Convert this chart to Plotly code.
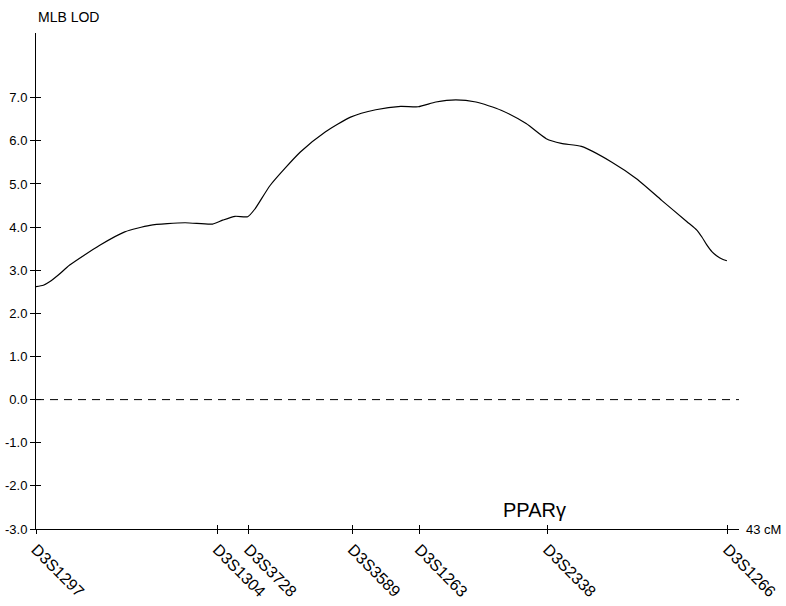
import plotly.graph_objects as go

# Map positions (cM) and LOD profile along the chromosome 3 segment
position_cm = [0.0, 0.45, 0.83, 1.40, 2.06, 3.90, 5.43, 6.97, 9.11, 10.80, 11.41, 12.18, 12.95,
               13.41, 14.33, 16.17, 17.71, 19.24, 20.78, 22.31, 23.38, 24.46, 25.68,
               26.91, 28.45, 29.98, 31.21, 32.13, 33.36, 35.20, 36.73, 38.27, 39.80,
               40.42, 40.73, 41.04, 41.34, 41.65, 41.96, 42.26]
mlb_lod = [2.62, 2.65, 2.73, 2.90, 3.12, 3.58, 3.89, 4.04, 4.10, 4.07, 4.16, 4.25, 4.24,
           4.43, 4.97, 5.74, 6.21, 6.55, 6.72, 6.80, 6.79, 6.90, 6.95,
           6.90, 6.71, 6.40, 6.05, 5.94, 5.87, 5.51, 5.12, 4.62, 4.13,
           3.93, 3.77, 3.58, 3.43, 3.33, 3.26, 3.22]

marker_names = ["D3S1297", "D3S1304", "D3S3728", "D3S3589", "D3S1263", "D3S2338", "D3S1266"]
marker_cm = [0.0, 11.09, 13.0, 19.35, 23.45, 31.3, 42.3]

lod_ticks = [-3, -2, -1, 0, 1, 2, 3, 4, 5, 6, 7]
lod_tick_text = ["-3.0", "-2.0", "-1.0", "0.0", "1.0", "2.0", "3.0", "4.0", "5.0", "6.0", "7.0"]

map_length_cm = 43
gene_label = "PPARγ"
gene_cm = 30.5

FONT = "Arial, Liberation Sans, sans-serif"

fig = go.Figure()

# Zero reference line
fig.add_trace(go.Scatter(
    x=[0, map_length_cm], y=[0, 0], mode="lines",
    line=dict(color="black", width=1, dash="8px,6px"),
    hoverinfo="skip", showlegend=False,
))

# LOD curve
fig.add_trace(go.Scatter(
    x=position_cm, y=mlb_lod, mode="lines",
    line=dict(color="black", width=1.2, shape="spline", smoothing=0.6),
    showlegend=False,
))

# Invisible trace on overlay axes so the inner tick marks get drawn
fig.add_trace(go.Scatter(x=[0], y=[0], xaxis="x2", yaxis="y2",
                         mode="markers", marker=dict(opacity=0),
                         hoverinfo="skip", showlegend=False))

axis_common = dict(showgrid=False, zeroline=False, showline=True,
                   linecolor="black", linewidth=1, tickcolor="black",
                   tickwidth=1, automargin=False)

fig.update_layout(
    width=786, height=606,
    margin=dict(l=36, r=47, t=33, b=77),
    plot_bgcolor="white", paper_bgcolor="white",
    font=dict(family=FONT, color="black"),
    xaxis=dict(range=[0, map_length_cm], tickmode="array",
               tickvals=marker_cm, ticktext=marker_names,
               ticks="outside", ticklen=4, tickangle=45,
               tickfont=dict(size=16, family=FONT), **axis_common),
    yaxis=dict(range=[-3, 8.5], tickmode="array",
               tickvals=lod_ticks, ticktext=lod_tick_text,
               ticks="outside", ticklen=5, ticklabelstandoff=0,
               tickfont=dict(size=13, family=FONT), **axis_common),
    xaxis2=dict(range=[0, map_length_cm], overlaying="x", tickmode="array",
                tickvals=marker_cm, showticklabels=False, ticks="inside",
                ticklen=4, **axis_common),
    yaxis2=dict(range=[-3, 8.5], overlaying="y", tickmode="array",
                tickvals=lod_ticks, showticklabels=False, ticks="inside",
                ticklen=5, **axis_common),
    annotations=[
        dict(text="MLB LOD", xref="paper", yref="paper", x=0, y=1.032,
             xanchor="left", yanchor="middle", showarrow=False,
             font=dict(size=14, family=FONT)),
        dict(text=f"{map_length_cm} cM", xref="paper", yref="y", x=1, y=-3,
             xanchor="left", yanchor="middle", xshift=5, showarrow=False,
             font=dict(size=13, family=FONT)),
        dict(text=gene_label, xref="x", yref="y", x=gene_cm, y=-2.55,
             xanchor="center", yanchor="middle", showarrow=False,
             font=dict(size=20, family=FONT)),
    ],
)

fig.write_html("out.html")
